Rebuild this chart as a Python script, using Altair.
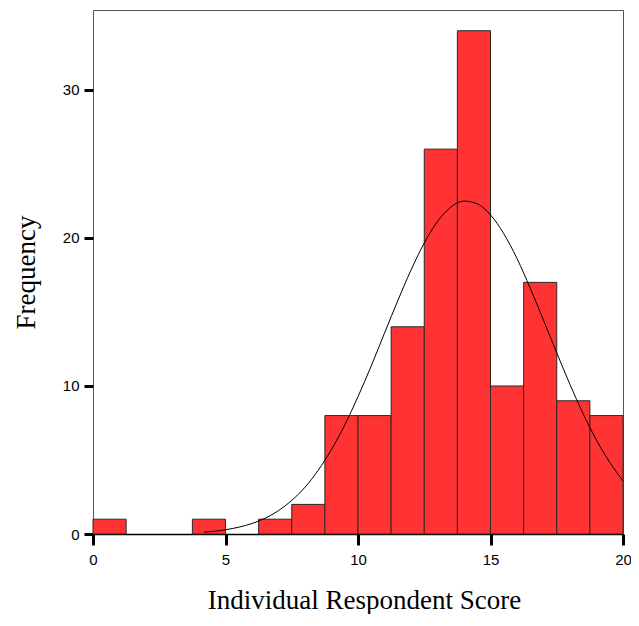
import altair as alt
import pandas as pd

# Histogram bins (left/right edges) and counts
bin_start = [0, 1.25, 2.5, 3.75, 5, 6.25, 7.5, 8.75, 10, 11.25, 12.5, 13.75, 15, 16.25, 17.5, 18.75]
bin_end = [1.25, 2.5, 3.75, 5, 6.25, 7.5, 8.75, 10, 11.25, 12.5, 13.75, 15, 16.25, 17.5, 18.75, 20]
counts = [1, 0, 0, 1, 0, 1, 2, 8, 8, 14, 26, 34, 10, 17, 9, 8]

# Fitted normal curve
curve_x = [4.2, 4.5, 5, 5.5, 6, 6.5, 7, 7.5, 8, 8.5, 9, 9.5, 10, 10.5, 11, 11.5, 12,
           12.5, 13, 13.5, 14, 14.5, 15, 15.5, 16, 16.5, 17, 17.5, 18, 18.5, 19, 19.5, 20]
curve_y = [0.13, 0.17, 0.29, 0.46, 0.71, 1.07, 1.58, 2.27, 3.16, 4.31, 5.71, 7.37, 9.28,
           11.36, 13.57, 15.76, 17.83, 19.66, 21.11, 22.08, 22.49, 22.31, 21.56, 20.29,
           18.61, 16.6, 14.44, 12.24, 10.1, 8.11, 6.34, 4.84, 3.59]

x_ticks = [0, 5, 10, 15, 20]
y_ticks = [0, 10, 20, 30]

bars_df = pd.DataFrame({"start": bin_start, "end": bin_end, "count": counts})
bars_df = bars_df[bars_df["count"] > 0]
curve_df = pd.DataFrame({"x": curve_x, "y": curve_y})

label_font = "Liberation Sans"
title_font = "Liberation Serif"

W, H = 530, 524

x_scale = alt.Scale(domain=[0, 20], nice=False, zero=False)
y_scale = alt.Scale(domain=[0, 35.4], nice=False)

x_axis = alt.Axis(
    values=x_ticks, grid=False, title="Individual Respondent Score",
    labelFont=label_font, labelFontSize=15, labelColor="black", labelPadding=7,
    tickColor="black", tickWidth=3, tickSize=11,
    domain=True, domainColor="black", domainWidth=1.5,
    titleFont=title_font, titleFontSize=27, titleFontWeight="normal", titleColor="black",
    titleX=W / 2 + 6, titleY=74, titleBaseline="alphabetic", titleAlign="center",
    labelFlush=False,
)
y_axis = alt.Axis(
    values=y_ticks, grid=False, title="Frequency",
    labelFont=label_font, labelFontSize=15, labelColor="black", labelPadding=5,
    tickColor="black", tickWidth=3, tickSize=9,
    domain=False,
    titleFont=title_font, titleFontSize=27, titleFontWeight="normal", titleColor="black",
    titleX=-59, titleY=H / 2, titleAngle=270, titleBaseline="alphabetic", titleAlign="center",
)

bars = alt.Chart(bars_df).mark_rect(
    fill="#FF3333", stroke="#2a2a2a", strokeWidth=1
).encode(
    x=alt.X("start:Q", scale=x_scale, axis=x_axis),
    x2="end:Q",
    y=alt.Y("count:Q", scale=y_scale, axis=y_axis),
    y2=alt.datum(0),
)

curve = alt.Chart(curve_df).mark_line(
    color="black", strokeWidth=1, interpolate="monotone"
).encode(
    x=alt.X("x:Q", scale=x_scale),
    y=alt.Y("y:Q", scale=y_scale),
)

chart = alt.layer(bars, curve).properties(
    width=W, height=H,
    autosize=alt.AutoSizeParams(type="none"),
    padding={"left": 85, "top": 2, "right": 8, "bottom": 80},
    background="white",
).configure_view(stroke="#555555", strokeWidth=1)

chart.save("out.html", embed_options={"renderer": "svg", "actions": False})
